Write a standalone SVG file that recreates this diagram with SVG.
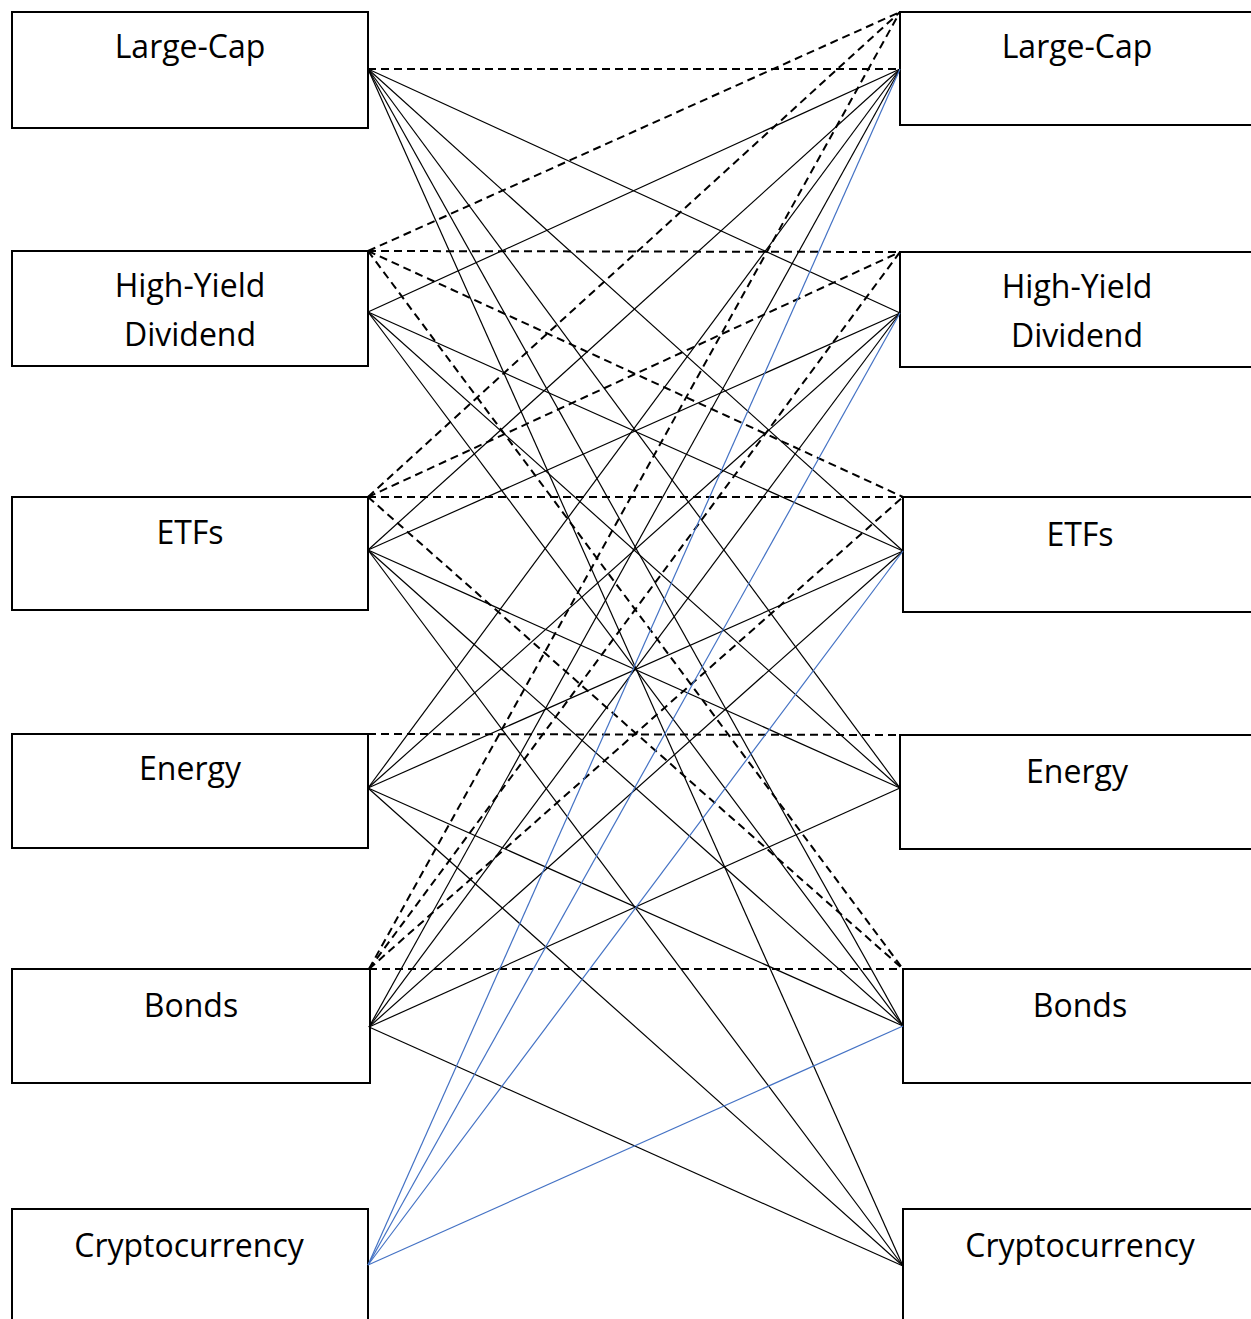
<svg xmlns="http://www.w3.org/2000/svg" width="1251" height="1319" viewBox="0 0 1251 1319">
<style>
.box{fill:#fff;stroke:#000;stroke-width:2}
.lbl{font-family:"Open Sans","Liberation Sans",sans-serif;font-size:32px;fill:#000;text-anchor:middle}
.s{stroke:#000;stroke-width:1.2;fill:none}
.b{stroke:#4472C4;stroke-width:1.2;fill:none}
.d{stroke:#000;stroke-width:2;fill:none;stroke-dasharray:8 5}
</style>
<rect width="1251" height="1319" fill="#fff"/>
<g id="left-large-cap"><rect class="box" x="12" y="12" width="356" height="116"/><text class="lbl" x="190" y="58">Large-Cap</text></g>
<g id="left-high-yield"><rect class="box" x="12" y="251" width="356" height="115"/><text class="lbl" x="190" y="297">High-Yield</text><text class="lbl" x="190" y="346">Dividend</text></g>
<g id="left-etfs"><rect class="box" x="12" y="497" width="356" height="113"/><text class="lbl" x="190" y="544">ETFs</text></g>
<g id="left-energy"><rect class="box" x="12" y="734" width="356" height="114"/><text class="lbl" x="190" y="780">Energy</text></g>
<g id="left-bonds"><rect class="box" x="12" y="969" width="358" height="114"/><text class="lbl" x="191" y="1017">Bonds</text></g>
<g id="left-crypto"><rect class="box" x="12" y="1209" width="356" height="120"/><text class="lbl" x="189" y="1257">Cryptocurrency</text></g>
<g id="right-large-cap"><rect class="box" x="900" y="12" width="360" height="113"/><text class="lbl" x="1077" y="58">Large-Cap</text></g>
<g id="right-high-yield"><rect class="box" x="900" y="252" width="360" height="115"/><text class="lbl" x="1077" y="298">High-Yield</text><text class="lbl" x="1077" y="347">Dividend</text></g>
<g id="right-etfs"><rect class="box" x="903" y="497" width="360" height="115"/><text class="lbl" x="1080" y="546">ETFs</text></g>
<g id="right-energy"><rect class="box" x="900" y="735" width="360" height="114"/><text class="lbl" x="1077" y="783">Energy</text></g>
<g id="right-bonds"><rect class="box" x="903" y="969" width="360" height="114"/><text class="lbl" x="1080" y="1017">Bonds</text></g>
<g id="right-crypto"><rect class="box" x="903" y="1209" width="360" height="120"/><text class="lbl" x="1080" y="1257">Cryptocurrency</text></g>
<g id="connectors">
<line class="d" x1="368" y1="69" x2="900" y2="69"/>
<line class="d" x1="368" y1="251" x2="900" y2="12"/>
<line class="d" x1="368" y1="497" x2="900" y2="12"/>
<line class="d" x1="369" y1="969" x2="900" y2="12"/>
<line class="d" x1="368" y1="251" x2="900" y2="252"/>
<line class="d" x1="368" y1="251" x2="903" y2="497"/>
<line class="d" x1="368" y1="251" x2="903" y2="969"/>
<line class="d" x1="368" y1="497" x2="900" y2="252"/>
<line class="d" x1="368" y1="497" x2="903" y2="497"/>
<line class="d" x1="368" y1="497" x2="903" y2="969"/>
<line class="d" x1="369" y1="969" x2="900" y2="252"/>
<line class="d" x1="369" y1="969" x2="903" y2="497"/>
<line class="d" x1="369" y1="969" x2="903" y2="969"/>
<line class="d" x1="368" y1="734" x2="900" y2="735"/>
<line class="s" x1="368" y1="69" x2="900" y2="313"/>
<line class="s" x1="368" y1="69" x2="903" y2="551"/>
<line class="s" x1="368" y1="69" x2="900" y2="788"/>
<line class="s" x1="368" y1="69" x2="903" y2="1026"/>
<line class="s" x1="368" y1="69" x2="903" y2="1266"/>
<line class="s" x1="368" y1="312" x2="900" y2="69"/>
<line class="s" x1="368" y1="312" x2="903" y2="551"/>
<line class="s" x1="368" y1="312" x2="900" y2="788"/>
<line class="s" x1="368" y1="312" x2="903" y2="1026"/>
<line class="s" x1="368" y1="550" x2="900" y2="69"/>
<line class="s" x1="368" y1="550" x2="900" y2="313"/>
<line class="s" x1="368" y1="550" x2="900" y2="788"/>
<line class="s" x1="368" y1="550" x2="903" y2="1026"/>
<line class="s" x1="368" y1="550" x2="903" y2="1266"/>
<line class="s" x1="368" y1="788" x2="900" y2="69"/>
<line class="s" x1="368" y1="788" x2="900" y2="313"/>
<line class="s" x1="368" y1="788" x2="903" y2="551"/>
<line class="s" x1="368" y1="788" x2="903" y2="1026"/>
<line class="s" x1="368" y1="788" x2="903" y2="1266"/>
<line class="s" x1="369" y1="1027" x2="900" y2="69"/>
<line class="s" x1="369" y1="1027" x2="900" y2="313"/>
<line class="s" x1="369" y1="1027" x2="903" y2="551"/>
<line class="s" x1="369" y1="1027" x2="900" y2="788"/>
<line class="s" x1="369" y1="1027" x2="903" y2="1266"/>
<line class="b" x1="368" y1="1265" x2="900" y2="69"/>
<line class="b" x1="368" y1="1265" x2="900" y2="313"/>
<line class="b" x1="368" y1="1265" x2="903" y2="551"/>
<line class="b" x1="368" y1="1265" x2="903" y2="1026"/>
</g>
</svg>
